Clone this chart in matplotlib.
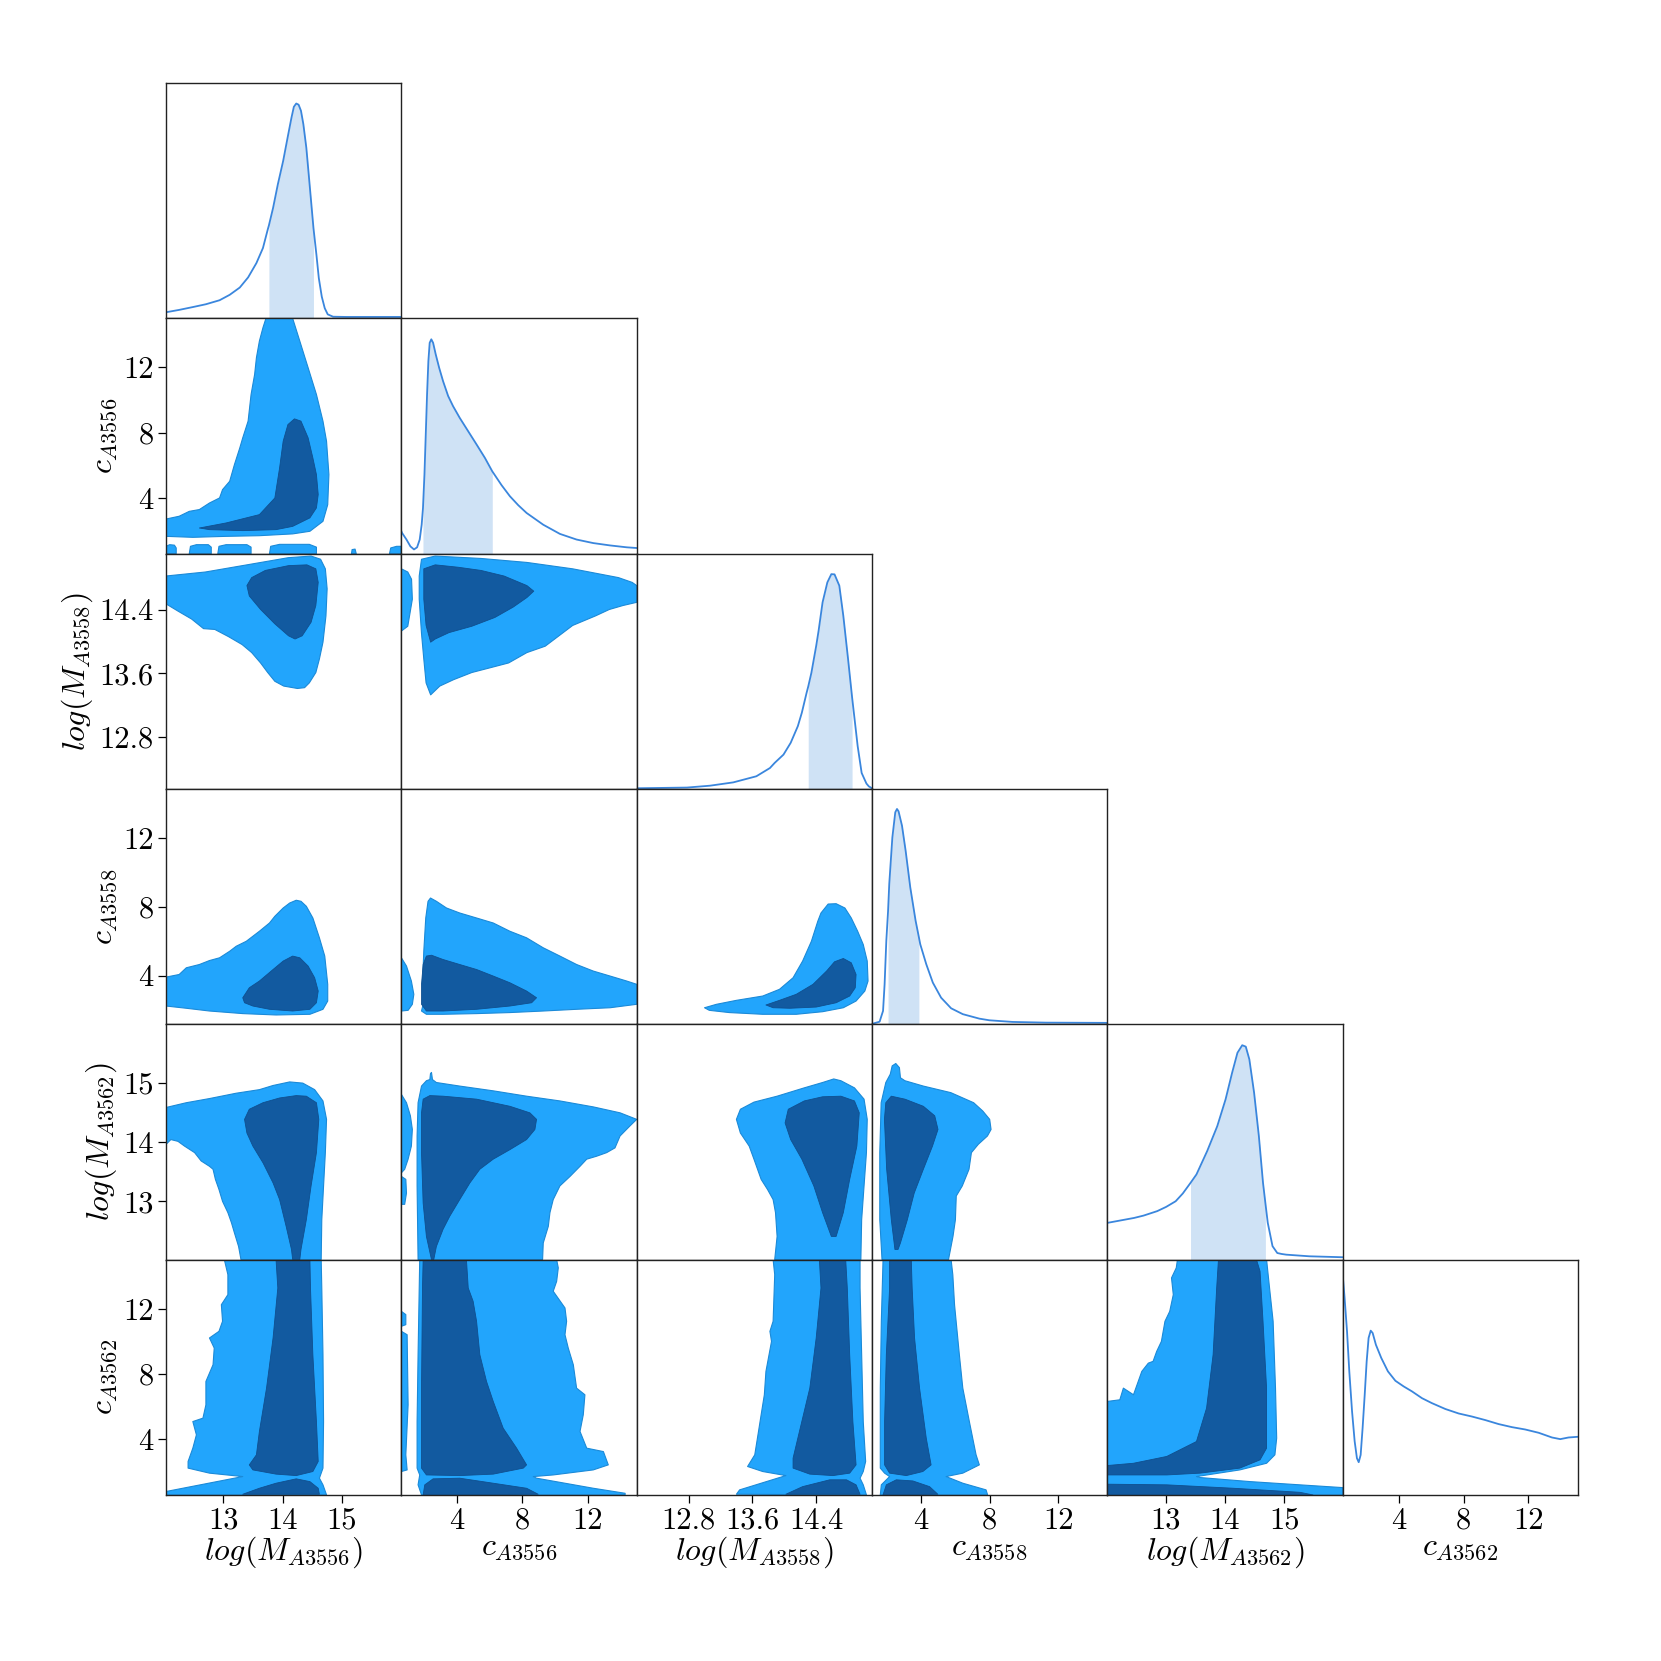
import numpy as np
import matplotlib
matplotlib.use("Agg")
import matplotlib.pyplot as plt

# ---- axes set-up (one entry per parameter) ----
labels = [r"$log(M_{A3556})$", r"$c_{A3556}$", r"$log(M_{A3558})$",
          r"$c_{A3558}$", r"$log(M_{A3562})$", r"$c_{A3562}$"]
limits = [(12.04, 16.0), (0.6, 15.0), (12.15, 15.1),
          (1.18, 14.84), (12.02, 15.98), (0.55, 15.05)]
ticks = [[13, 14, 15], [4, 8, 12], [12.8, 13.6, 14.4],
         [4, 8, 12], [13, 14, 15], [4, 8, 12]]
ticklabels = [["13", "14", "15"], ["4", "8", "12"], ["12.8", "13.6", "14.4"],
              ["4", "8", "12"], ["13", "14", "15"], ["4", "8", "12"]]

# ---- 1D marginals (density scaled to panel height) ----
m56_x = [12.04, 12.26, 12.49, 12.71, 12.94, 13.11, 13.28, 13.42, 13.56, 13.67, 13.75, 13.77, 13.84,
         13.92, 14.01, 14.09, 14.15, 14.19, 14.23, 14.27, 14.31, 14.35, 14.40, 14.44, 14.48, 14.52,
         14.57, 14.61, 14.66, 14.71, 14.76, 14.85, 15.07, 16.0]
m56_y = [0.026, 0.036, 0.048, 0.060, 0.077, 0.100, 0.131, 0.174, 0.235, 0.299, 0.377, 0.395, 0.469,
         0.569, 0.669, 0.775, 0.853, 0.899, 0.913, 0.908, 0.882, 0.825, 0.725, 0.612, 0.498, 0.384,
         0.270, 0.171, 0.092, 0.043, 0.017, 0.007, 0.006, 0.006]
m56_band = (13.77, 14.52)

c56_x = [0.6, 0.64, 0.91, 1.15, 1.37, 1.56, 1.72, 1.84, 1.92, 2.01, 2.09, 2.17, 2.25, 2.33, 2.43,
         2.54, 2.70, 2.91, 3.15, 3.46, 3.76, 4.17, 4.68, 5.20, 5.71, 6.16, 6.73, 7.24, 7.75, 8.26,
         9.28, 10.30, 11.32, 12.34, 13.37, 14.39, 15.0]
c56_y = [0.095, 0.088, 0.060, 0.031, 0.018, 0.027, 0.060, 0.123, 0.194, 0.336, 0.506, 0.677, 0.818,
         0.896, 0.911, 0.896, 0.847, 0.790, 0.733, 0.670, 0.627, 0.577, 0.521, 0.464, 0.407, 0.350,
         0.291, 0.244, 0.206, 0.173, 0.123, 0.084, 0.060, 0.045, 0.035, 0.027, 0.024]
c56_band = (1.92, 6.16)

m58_x = [12.15, 12.78, 13.07, 13.36, 13.65, 13.82, 13.88, 13.99, 14.08, 14.17, 14.22, 14.28, 14.30,
         14.34, 14.37, 14.40, 14.43, 14.48, 14.54, 14.59, 14.63, 14.69, 14.74, 14.80, 14.85, 14.92,
         14.97, 15.03, 15.06, 15.10]
m58_y = [0.003, 0.006, 0.014, 0.028, 0.054, 0.089, 0.111, 0.146, 0.196, 0.267, 0.324, 0.409, 0.435,
         0.494, 0.551, 0.608, 0.672, 0.793, 0.878, 0.913, 0.912, 0.864, 0.736, 0.551, 0.390, 0.182,
         0.068, 0.023, 0.011, 0.003]
m58_band = (14.30, 14.85)

c58_x = [1.18, 1.24, 1.62, 1.82, 1.91, 2.01, 2.11, 2.18, 2.36, 2.53, 2.63, 2.72, 2.92, 3.13, 3.40,
         3.71, 3.90, 3.98, 4.33, 4.71, 5.19, 5.77, 6.45, 7.41, 7.99, 9.34, 11.27, 14.84]
c58_y = [0.003, 0.003, 0.011, 0.057, 0.170, 0.355, 0.480, 0.596, 0.794, 0.901, 0.915, 0.905, 0.844,
         0.738, 0.582, 0.440, 0.370, 0.340, 0.255, 0.177, 0.113, 0.068, 0.043, 0.024, 0.017, 0.010,
         0.007, 0.006]
c58_band = (2.11, 3.90)

m62_x = [12.02, 12.47, 12.63, 12.86, 13.01, 13.17, 13.29, 13.42, 13.52, 13.70, 13.87, 14.01, 14.12,
         14.21, 14.29, 14.35, 14.41, 14.49, 14.57, 14.64, 14.68, 14.72, 14.80, 14.88, 14.95, 15.03,
         15.42, 15.98]
m62_y = [0.156, 0.177, 0.187, 0.206, 0.224, 0.248, 0.281, 0.326, 0.362, 0.461, 0.567, 0.681, 0.794,
         0.879, 0.911, 0.905, 0.851, 0.709, 0.525, 0.326, 0.240, 0.156, 0.057, 0.028, 0.024, 0.021,
         0.014, 0.010]
m62_band = (13.42, 14.68)

c62_x = [0.57, 0.67, 0.82, 0.96, 1.13, 1.29, 1.43, 1.54, 1.66, 1.78, 1.91, 2.03, 2.15, 2.28, 2.40,
         2.60, 2.93, 3.34, 3.80, 4.31, 4.82, 5.44, 6.05, 6.88, 7.70, 8.52, 9.34, 10.16, 10.98, 11.80,
         12.63, 13.45, 13.96, 14.47, 15.05]
c62_y = [0.922, 0.837, 0.695, 0.525, 0.355, 0.228, 0.156, 0.139, 0.170, 0.284, 0.426, 0.567, 0.667,
         0.698, 0.688, 0.638, 0.582, 0.525, 0.485, 0.461, 0.440, 0.411, 0.390, 0.365, 0.346, 0.333,
         0.318, 0.301, 0.288, 0.278, 0.264, 0.244, 0.237, 0.244, 0.247]
c62_band = None

# ---- 2D credible regions: outer (light) and inner (dark) contours ----
# row 1: c_A3556 vs logM_A3556
light_1_0 = [[(12.04, 2.72), (12.26, 2.89), (12.43, 3.19), (12.60, 3.30), (12.77, 3.70), (12.94, 4.01),
              (12.99, 4.52), (13.11, 5.03), (13.19, 6.05), (13.28, 7.07), (13.33, 7.69), (13.42, 8.71),
              (13.47, 10.34), (13.53, 11.57), (13.56, 12.59), (13.61, 13.61), (13.67, 14.43), (13.72, 15.0),
              (14.17, 15.0), (14.29, 13.61), (14.43, 11.98), (14.57, 10.34), (14.68, 8.71), (14.74, 7.48),
              (14.78, 5.44), (14.76, 3.60), (14.68, 2.58), (14.46, 1.97), (14.17, 1.81), (13.61, 1.70),
              (13.05, 1.66), (12.49, 1.60), (12.04, 1.66)],
             [(12.04, 0.6), (12.04, 1.05), (12.10, 1.15), (12.18, 1.12), (12.21, 0.95), (12.21, 0.6)],
             [(12.43, 0.6), (12.45, 1.05), (12.55, 1.15), (12.75, 1.15), (12.80, 1.0), (12.80, 0.6)],
             [(12.91, 0.6), (12.93, 1.05), (13.05, 1.15), (13.40, 1.15), (13.47, 1.0), (13.47, 0.6)],
             [(13.78, 0.6), (13.80, 1.05), (13.95, 1.17), (14.45, 1.17), (14.57, 1.0), (14.57, 0.6)],
             [(15.16, 0.6), (15.17, 0.85), (15.22, 0.88), (15.24, 0.6)],
             [(15.80, 0.6), (15.82, 0.95), (15.92, 1.05), (16.0, 1.05), (16.0, 0.6)]]
dark_1_0 = [[(12.60, 2.17), (13.05, 2.48), (13.61, 2.99), (13.87, 4.01), (13.95, 5.85), (14.01, 7.48),
             (14.09, 8.50), (14.20, 8.85), (14.31, 8.71), (14.43, 7.69), (14.51, 6.46), (14.57, 5.44),
             (14.60, 4.22), (14.57, 3.40), (14.46, 2.79), (14.17, 2.27), (13.89, 2.07), (13.33, 2.01),
             (12.77, 2.07)]]

# row 2: logM_A3558 vs logM_A3556, c_A3556
light_2_0 = [[(12.04, 14.82), (12.70, 14.87), (13.48, 14.97), (14.10, 15.05), (14.48, 15.07), (14.64, 15.03),
              (14.72, 14.91), (14.75, 14.66), (14.73, 14.32), (14.68, 13.99), (14.62, 13.78), (14.56, 13.61),
              (14.45, 13.48), (14.37, 13.42), (14.25, 13.41), (14.02, 13.44), (13.87, 13.50), (13.75, 13.61),
              (13.63, 13.73), (13.48, 13.86), (13.32, 13.96), (13.09, 14.06), (12.86, 14.15), (12.67, 14.16),
              (12.47, 14.28), (12.24, 14.38), (12.04, 14.47)]]
dark_2_0 = [[(13.40, 14.70), (13.48, 14.80), (13.71, 14.89), (14.10, 14.95), (14.41, 14.96), (14.56, 14.91),
             (14.60, 14.74), (14.56, 14.45), (14.48, 14.24), (14.33, 14.07), (14.21, 14.03), (14.10, 14.07),
             (13.87, 14.22), (13.63, 14.40), (13.44, 14.57)]]
light_2_1 = [[(1.69, 14.82), (1.83, 15.03), (2.67, 15.07), (5.47, 15.04), (8.28, 14.99), (11.08, 14.91),
              (13.88, 14.80), (14.72, 14.74), (15.0, 14.70), (15.0, 14.49), (14.16, 14.45), (13.32, 14.40),
              (12.48, 14.32), (11.08, 14.20), (10.24, 14.07), (9.40, 13.94), (8.28, 13.86), (7.16, 13.73),
              (6.04, 13.67), (4.91, 13.61), (3.79, 13.52), (2.95, 13.44), (2.39, 13.33), (2.11, 13.48),
              (1.97, 13.78), (1.83, 14.10), (1.69, 14.53)],
             [(0.6, 14.91), (0.99, 14.87), (1.22, 14.78), (1.27, 14.53), (0.99, 14.19), (0.6, 14.13)]]
dark_2_1 = [[(1.97, 14.91), (2.67, 14.96), (4.07, 14.93), (5.47, 14.89), (6.88, 14.82), (8.28, 14.70),
             (8.70, 14.63), (8.28, 14.55), (7.44, 14.43), (6.32, 14.30), (4.91, 14.19), (3.51, 14.11),
             (2.67, 14.03), (2.39, 13.99), (2.11, 14.20), (1.97, 14.53)]]

# row 3: c_A3558 vs logM_A3556, c_A3556, logM_A3558
light_3_0 = [[(12.04, 3.92), (12.26, 4.07), (12.38, 4.46), (12.60, 4.65), (12.77, 4.88), (12.94, 5.04),
              (13.11, 5.42), (13.22, 5.71), (13.39, 6.00), (13.50, 6.29), (13.61, 6.58), (13.78, 7.06),
              (13.87, 7.45), (14.01, 7.93), (14.12, 8.22), (14.23, 8.38), (14.31, 8.32), (14.40, 8.03),
              (14.51, 7.35), (14.62, 6.20), (14.71, 5.14), (14.76, 3.50), (14.76, 2.53), (14.68, 2.05),
              (14.46, 1.76), (13.89, 1.72), (13.33, 1.80), (12.77, 1.95), (12.38, 2.11), (12.04, 2.24)]]
dark_3_0 = [[(13.36, 2.43), (13.33, 2.72), (13.44, 3.30), (13.61, 3.69), (13.84, 4.36), (14.01, 4.85),
             (14.17, 5.14), (14.29, 5.04), (14.43, 4.56), (14.54, 3.88), (14.60, 3.11), (14.57, 2.43),
             (14.46, 2.05), (14.17, 1.95), (13.78, 2.05), (13.50, 2.24)]]
light_3_1 = [[(1.93, 2.34), (1.89, 3.50), (1.97, 5.42), (2.09, 7.35), (2.23, 8.32), (2.38, 8.51), (2.74, 8.32),
              (3.36, 7.93), (4.17, 7.64), (5.20, 7.35), (6.22, 7.06), (7.24, 6.58), (8.26, 6.20), (9.28, 5.62),
              (10.30, 5.14), (11.32, 4.65), (12.34, 4.27), (13.37, 3.98), (14.39, 3.69), (15.0, 3.50),
              (15.0, 2.34), (13.37, 2.14), (11.32, 2.05), (9.28, 1.95), (7.24, 1.86), (5.20, 1.80),
              (3.15, 1.76), (2.13, 1.76), (1.83, 1.95)],
             [(0.6, 5.04), (0.91, 4.56), (1.21, 3.69), (1.36, 2.92), (1.27, 2.34), (1.01, 1.99), (0.6, 1.95)]]
dark_3_1 = [[(1.83, 2.34), (1.83, 3.50), (1.93, 4.65), (2.13, 5.14), (2.44, 5.19), (3.15, 4.94), (4.17, 4.65),
             (5.20, 4.36), (6.22, 3.98), (7.24, 3.59), (8.26, 3.11), (8.87, 2.72), (8.57, 2.43), (7.24, 2.24),
             (5.20, 2.05), (3.15, 1.95), (2.13, 1.95)]]
light_3_2 = [[(13.00, 2.14), (13.15, 2.34), (13.40, 2.57), (13.73, 2.82), (13.94, 3.21), (14.11, 3.88),
              (14.23, 4.85), (14.34, 6.00), (14.42, 7.16), (14.46, 7.64), (14.55, 8.16), (14.65, 8.18),
              (14.76, 7.93), (14.84, 7.35), (14.92, 6.58), (14.99, 5.81), (15.04, 4.85), (15.05, 3.69),
              (15.01, 3.11), (14.90, 2.53), (14.74, 2.14), (14.48, 1.91), (14.15, 1.76), (13.73, 1.76),
              (13.31, 1.86), (13.06, 1.99)]]
dark_3_2 = [[(13.77, 2.30), (13.94, 2.57), (14.15, 2.92), (14.36, 3.50), (14.53, 4.27), (14.63, 4.81),
             (14.74, 5.00), (14.84, 4.75), (14.90, 4.07), (14.89, 3.30), (14.82, 2.82), (14.65, 2.43),
             (14.40, 2.18), (14.07, 2.11), (13.86, 2.14)]]

# row 4: logM_A3562 vs the first four parameters
light_4_0 = [[(12.04, 14.58), (12.38, 14.66), (12.77, 14.73), (13.22, 14.82), (13.61, 14.88), (13.84, 14.95),
              (14.12, 15.01), (14.34, 14.99), (14.54, 14.88), (14.68, 14.69), (14.74, 14.38), (14.72, 13.82),
              (14.69, 13.26), (14.66, 12.69), (14.65, 12.02), (13.30, 12.02), (13.26, 12.24), (13.19, 12.47),
              (13.14, 12.64), (13.08, 12.81), (12.99, 13.00), (12.93, 13.20), (12.87, 13.37), (12.83, 13.54),
              (12.77, 13.59), (12.63, 13.68), (12.52, 13.82), (12.35, 13.93), (12.24, 14.01), (12.12, 14.04),
              (12.04, 13.96)]]
dark_4_0 = [[(13.36, 14.38), (13.44, 14.55), (13.67, 14.66), (13.95, 14.74), (14.23, 14.78), (14.40, 14.77),
             (14.57, 14.66), (14.61, 14.38), (14.57, 13.82), (14.48, 13.26), (14.40, 12.69), (14.31, 12.19),
             (14.29, 12.02), (14.17, 12.02), (14.15, 12.19), (14.06, 12.58), (13.95, 13.03), (13.84, 13.31),
             (13.67, 13.65), (13.50, 13.93), (13.40, 14.15)]]
light_4_1 = [[(1.62, 12.02), (1.56, 13.26), (1.56, 14.10), (1.62, 14.66), (1.83, 14.94), (2.13, 15.03),
              (2.34, 15.05), (2.38, 15.15), (2.44, 15.17), (2.50, 15.05), (2.74, 15.00), (4.17, 14.94),
              (6.22, 14.86), (8.26, 14.77), (10.30, 14.69), (12.34, 14.59), (13.98, 14.49), (15.0, 14.38),
              (14.59, 14.27), (13.98, 14.10), (13.67, 13.90), (13.16, 13.82), (12.55, 13.76), (11.94, 13.71),
              (11.53, 13.59), (10.92, 13.42), (10.30, 13.26), (9.89, 13.03), (9.69, 12.81), (9.59, 12.58),
              (9.28, 12.30), (9.24, 12.02)],
             [(0.6, 14.80), (0.91, 14.66), (1.15, 14.44), (1.27, 14.21), (1.21, 13.93), (1.01, 13.71),
              (0.80, 13.54), (0.6, 13.48)],
             [(0.6, 13.42), (0.87, 13.37), (0.91, 13.14), (0.80, 12.95), (0.6, 12.95)]]
dark_4_1 = [[(2.44, 12.02), (2.13, 12.41), (1.93, 12.97), (1.83, 13.82), (1.83, 14.49), (1.93, 14.72),
             (2.34, 14.78), (3.15, 14.77), (5.20, 14.72), (7.24, 14.60), (8.46, 14.49), (8.87, 14.38),
             (8.77, 14.21), (8.26, 14.04), (7.24, 13.87), (6.22, 13.71), (5.40, 13.54), (4.79, 13.31),
             (4.17, 13.03), (3.56, 12.75), (3.15, 12.53), (2.74, 12.24), (2.58, 12.02)]]
light_4_2 = [[(13.88, 12.02), (13.91, 12.41), (13.89, 12.81), (13.86, 13.03), (13.79, 13.20), (13.71, 13.37),
              (13.62, 13.71), (13.56, 13.93), (13.45, 14.15), (13.40, 14.38), (13.45, 14.55), (13.62, 14.67),
              (13.91, 14.77), (14.25, 14.91), (14.48, 15.00), (14.62, 15.06), (14.71, 15.03), (14.88, 14.91),
              (15.00, 14.72), (15.04, 14.38), (15.03, 13.82), (15.00, 13.26), (14.97, 12.69), (14.96, 12.02)]]
dark_4_2 = [[(14.59, 12.41), (14.48, 12.81), (14.37, 13.26), (14.22, 13.71), (14.08, 14.04), (14.01, 14.32),
             (14.05, 14.55), (14.25, 14.69), (14.48, 14.76), (14.71, 14.77), (14.88, 14.69), (14.94, 14.49),
             (14.91, 13.93), (14.82, 13.37), (14.74, 12.81), (14.65, 12.41)]]
light_4_3 = [[(1.76, 12.02), (1.63, 12.69), (1.63, 13.82), (1.71, 14.66), (1.98, 15.00), (2.24, 15.14),
              (2.35, 15.28), (2.56, 15.32), (2.77, 15.25), (2.83, 15.08), (3.09, 15.03), (4.16, 14.94),
              (5.75, 14.83), (7.08, 14.66), (7.61, 14.52), (8.01, 14.38), (8.09, 14.21), (7.88, 14.10),
              (7.35, 13.96), (6.95, 13.82), (6.81, 13.54), (6.42, 13.26), (6.07, 13.09), (6.02, 12.69),
              (5.88, 12.41), (5.62, 12.02)]]
dark_4_3 = [[(2.51, 12.19), (2.30, 12.69), (2.03, 13.54), (1.90, 14.38), (1.98, 14.66), (2.30, 14.77),
             (3.09, 14.72), (4.16, 14.60), (4.82, 14.44), (5.01, 14.21), (4.69, 13.93), (4.16, 13.54),
             (3.63, 13.14), (3.23, 12.69), (2.83, 12.30), (2.69, 12.19)]]

# row 5: c_A3562 vs the first five parameters
light_5_0 = [[(13.02, 15.05), (13.08, 14.12), (13.08, 12.89), (12.97, 12.27), (12.99, 11.25), (12.93, 10.63),
              (12.77, 10.22), (12.85, 9.60), (12.83, 8.57), (12.71, 7.54), (12.71, 6.10), (12.66, 5.28),
              (12.49, 5.07), (12.55, 4.25), (12.49, 3.43), (12.41, 2.61), (12.41, 2.20), (12.77, 1.89),
              (13.33, 1.68), (12.04, 0.76), (12.04, 0.55), (14.74, 0.55), (14.68, 1.17), (14.62, 1.58),
              (14.68, 2.20), (14.69, 5.07), (14.68, 9.19), (14.66, 13.30), (14.65, 15.05)]]
dark_5_0 = [[(13.89, 15.05), (13.92, 13.30), (13.84, 10.22), (13.73, 7.13), (13.61, 4.46), (13.56, 3.02),
             (13.44, 2.40), (13.50, 2.09), (13.89, 1.83), (14.23, 1.74), (14.51, 1.99), (14.60, 2.61),
             (14.57, 5.07), (14.51, 9.19), (14.47, 13.30), (14.46, 15.05)],
            [(13.33, 0.59), (13.61, 0.96), (13.89, 1.27), (14.23, 1.54), (14.46, 1.37), (14.60, 0.96),
             (14.62, 0.59)]]
light_5_1 = [[(1.72, 15.05), (1.62, 9.19), (1.56, 5.07), (1.56, 2.20), (1.72, 1.78), (1.62, 1.17), (1.83, 0.55),
              (14.29, 0.55), (14.29, 0.65), (12.34, 0.96), (8.87, 1.58), (8.67, 1.68), (9.89, 1.78),
              (12.34, 2.09), (13.26, 2.40), (12.96, 3.22), (11.94, 3.43), (11.53, 4.46), (11.73, 5.49),
              (11.83, 6.72), (11.32, 7.13), (11.12, 8.57), (10.81, 9.60), (10.61, 10.42), (10.71, 11.25),
              (10.61, 12.07), (9.89, 13.10), (10.10, 13.71), (10.20, 14.54), (10.10, 15.05)],
             [(0.6, 11.86), (0.87, 11.66), (0.87, 11.04), (0.6, 10.94)],
             [(0.6, 10.63), (0.95, 10.42), (1.01, 6.10), (0.87, 3.02), (0.95, 2.09), (0.6, 1.99)]]
dark_5_1 = [[(1.93, 15.05), (1.89, 13.30), (1.83, 7.13), (1.83, 2.20), (2.13, 1.78), (4.17, 1.74), (6.22, 1.83),
             (8.06, 2.20), (8.26, 2.40), (7.65, 3.43), (6.83, 4.66), (6.22, 6.31), (5.81, 7.54), (5.40, 9.19),
             (5.20, 11.25), (4.99, 12.48), (4.69, 13.30), (4.58, 15.05)],
            [(1.93, 0.55), (2.03, 1.17), (2.54, 1.54), (4.17, 1.58), (6.22, 1.27), (8.26, 0.96), (8.97, 0.59)]]
light_5_2 = [[(13.86, 15.05), (13.88, 14.12), (13.86, 11.25), (13.82, 10.63), (13.84, 10.01), (13.77, 8.16),
              (13.75, 6.72), (13.71, 5.49), (13.67, 4.25), (13.63, 3.02), (13.54, 2.30), (13.73, 1.99),
              (14.02, 1.74), (13.44, 0.86), (13.40, 0.59), (15.03, 0.55), (14.99, 1.17), (14.95, 1.58),
              (14.99, 1.99), (15.02, 2.61), (14.99, 5.07), (14.97, 9.19), (14.95, 13.30), (14.95, 15.05)]]
dark_5_2 = [[(14.44, 15.05), (14.46, 13.30), (14.40, 10.22), (14.32, 7.13), (14.19, 4.46), (14.11, 2.81),
             (14.11, 2.20), (14.32, 1.83), (14.61, 1.74), (14.82, 1.89), (14.90, 2.40), (14.86, 5.07),
             (14.82, 9.19), (14.79, 13.30), (14.77, 15.05)],
            [(14.02, 0.59), (14.23, 1.06), (14.57, 1.48), (14.78, 1.48), (14.90, 1.17), (14.95, 0.59)]]
light_5_3 = [[(1.82, 15.05), (1.72, 11.25), (1.66, 7.13), (1.66, 2.20), (1.91, 1.89), (2.20, 1.68), (1.72, 1.17),
              (1.66, 0.55), (7.89, 0.55), (7.80, 0.86), (6.45, 1.27), (5.48, 1.68), (6.45, 1.89), (7.41, 2.40),
              (7.22, 3.02), (6.83, 5.07), (6.45, 7.13), (6.25, 9.19), (5.97, 12.27), (5.87, 14.12),
              (5.77, 15.05)]]
dark_5_3 = [[(2.20, 15.05), (2.20, 13.30), (2.01, 9.19), (1.91, 5.07), (1.91, 2.40), (2.20, 1.89), (3.17, 1.74),
             (4.13, 1.99), (4.61, 2.40), (4.33, 4.04), (3.94, 7.13), (3.65, 10.22), (3.51, 13.30),
             (3.46, 15.05)],
            [(1.82, 0.55), (2.01, 1.17), (2.59, 1.48), (3.55, 1.41), (4.52, 1.06), (5.00, 0.59)]]
light_5_4 = [[(13.20, 15.05), (13.18, 14.54), (13.10, 13.92), (13.13, 12.89), (13.07, 11.86), (12.99, 11.25),
              (12.93, 10.01), (12.85, 9.39), (12.79, 8.78), (12.71, 8.67), (12.60, 8.16), (12.46, 6.72),
              (12.29, 7.13), (12.23, 6.41), (12.02, 6.31), (12.02, 0.55), (15.98, 0.55), (15.98, 1.00),
              (15.26, 1.17), (14.42, 1.37), (13.58, 1.62), (13.52, 1.68), (14.25, 2.09), (14.70, 2.50),
              (14.84, 3.02), (14.87, 4.05), (14.85, 7.13), (14.81, 11.25), (14.75, 13.30), (14.70, 15.05)]]
dark_5_4 = [[(13.89, 15.05), (13.86, 13.30), (13.80, 9.19), (13.69, 5.90), (13.52, 3.84), (13.02, 2.92),
             (12.46, 2.50), (12.02, 2.36), (12.02, 1.78), (13.02, 1.78), (13.58, 1.89), (14.25, 2.20),
             (14.59, 2.71), (14.70, 3.43), (14.70, 7.13), (14.64, 11.25), (14.59, 14.33), (14.53, 15.05)],
            [(12.02, 1.21), (13.02, 1.17), (14.14, 0.96), (15.26, 0.71), (15.48, 0.55), (12.02, 0.55)]]

marginals = [(m56_x, m56_y, m56_band), (c56_x, c56_y, c56_band), (m58_x, m58_y, m58_band),
             (c58_x, c58_y, c58_band), (m62_x, m62_y, m62_band), (c62_x, c62_y, c62_band)]
regions = {(1, 0): (light_1_0, dark_1_0),
           (2, 0): (light_2_0, dark_2_0), (2, 1): (light_2_1, dark_2_1),
           (3, 0): (light_3_0, dark_3_0), (3, 1): (light_3_1, dark_3_1), (3, 2): (light_3_2, dark_3_2),
           (4, 0): (light_4_0, dark_4_0), (4, 1): (light_4_1, dark_4_1), (4, 2): (light_4_2, dark_4_2),
           (4, 3): (light_4_3, dark_4_3),
           (5, 0): (light_5_0, dark_5_0), (5, 1): (light_5_1, dark_5_1), (5, 2): (light_5_2, dark_5_2),
           (5, 3): (light_5_3, dark_5_3), (5, 4): (light_5_4, dark_5_4)}

light_col = "#22a5fc"
dark_col = "#125aa0"
line_col = "#3a86dd"
band_col = "#cfe2f5"

plt.rcParams["font.family"] = "cmr10"
plt.rcParams["mathtext.fontset"] = "cm"
plt.rcParams["axes.unicode_minus"] = False
plt.rcParams["axes.formatter.use_mathtext"] = True

n = len(labels)
fig, axes = plt.subplots(n, n, figsize=(16.61, 16.61), dpi=100)
fig.subplots_adjust(left=0.1, right=0.95, bottom=0.1, top=0.95, wspace=0, hspace=0)

for i in range(n):
    for j in range(n):
        ax = axes[i, j]
        if j > i:
            ax.axis("off")
            continue
        for s in ax.spines.values():
            s.set_linewidth(1.0)
            s.set_color("#222222")
        ax.set_xlim(limits[j])
        if i == j:
            x, y, band = marginals[i]
            x = np.array(x)
            y = np.array(y)
            if band is not None:
                ax.fill_between(x, 0, y, where=(x >= band[0]) & (x <= band[1]),
                                color=band_col, lw=0)
            ax.plot(x, y, color=line_col, lw=1.3, solid_joinstyle="round")
            ax.set_ylim(0, 1)
        else:
            light, dark = regions[(i, j)]
            for poly in light:
                px, py = zip(*poly)
                ax.fill(px, py, facecolor=light_col, edgecolor="#1b8ad8", lw=0.8,
                        joinstyle="round")
            for poly in dark:
                px, py = zip(*poly)
                ax.fill(px, py, facecolor=dark_col, edgecolor="#0f4f8f", lw=0.6,
                        joinstyle="round")
            ax.set_ylim(limits[i])

        ax.tick_params(direction="out", length=6, width=0.9, labelsize=22, pad=3)
        if i == n - 1:
            ax.set_xticks(ticks[j])
            ax.set_xticklabels(ticklabels[j])
            ax.set_xlabel(labels[j], fontsize=23, labelpad=0)
        else:
            ax.set_xticks([])
        if j == 0 and i > 0:
            ax.set_yticks(ticks[i])
            ax.set_yticklabels(ticklabels[i])
            ax.set_ylabel(labels[i], fontsize=23, labelpad=3)
        else:
            ax.set_yticks([])

fig.savefig("out.png", dpi=100)
